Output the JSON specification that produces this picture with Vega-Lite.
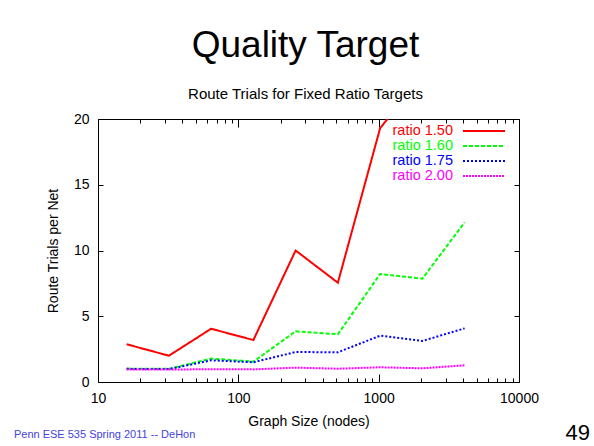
{
  "$schema": "https://vega.github.io/schema/vega-lite/v6.json",
  "padding": {"left": 13, "top": 26, "right": 4, "bottom": 0},
  "background": "white",
  "config": {
    "font": "Liberation Sans",
    "view": {"stroke": "#000000", "strokeWidth": 1},
    "axis": {
      "labelFont": "Liberation Sans", "titleFont": "Liberation Sans",
      "labelColor": "#000000", "titleColor": "#000000",
      "domain": false, "grid": false, "tickColor": "#000000",
      "titleFontWeight": "normal", "labelFontSize": 14, "titleFontSize": 14
    },
    "title": {"font": "Liberation Sans", "fontWeight": "normal", "color": "#000000"}
  },
  "title": {"text": "49", "orient": "bottom", "anchor": "end", "fontSize": 22, "offset": -17, "dx": 51},
  "vconcat": [
    {
      "title": {"text": "Penn ESE 535 Spring 2011 -- DeHon", "orient": "bottom", "anchor": "start", "fontSize": 11, "color": "#4444dd", "offset": 0, "dx": -32},
      "vconcat": [
        {
          "width": 421,
          "height": 263,
          "title": {"text": "Quality Target", "subtitle": "Route Trials for Fixed Ratio Targets", "fontSize": 37, "subtitleFontSize": 15, "subtitleColor": "#000000", "subtitleFont": "Liberation Sans", "subtitlePadding": 22, "offset": -30, "anchor": "middle", "dx": -3},
          "data": {"values": [
            {"n": 16, "trials": 2.87, "series": "ratio 1.50"},
            {"n": 32, "trials": 2.0, "series": "ratio 1.50"},
            {"n": 64, "trials": 4.05, "series": "ratio 1.50"},
            {"n": 128, "trials": 3.19, "series": "ratio 1.50"},
            {"n": 256, "trials": 10.0, "series": "ratio 1.50"},
            {"n": 512, "trials": 7.55, "series": "ratio 1.50"},
            {"n": 1024, "trials": 19.3, "series": "ratio 1.50"},
            {"n": 2048, "trials": 23.3, "series": "ratio 1.50"},
            {"n": 16, "trials": 1.0, "series": "ratio 1.60"},
            {"n": 32, "trials": 1.0, "series": "ratio 1.60"},
            {"n": 64, "trials": 1.78, "series": "ratio 1.60"},
            {"n": 128, "trials": 1.55, "series": "ratio 1.60"},
            {"n": 256, "trials": 3.85, "series": "ratio 1.60"},
            {"n": 512, "trials": 3.63, "series": "ratio 1.60"},
            {"n": 1024, "trials": 8.21, "series": "ratio 1.60"},
            {"n": 2048, "trials": 7.86, "series": "ratio 1.60"},
            {"n": 4096, "trials": 12.14, "series": "ratio 1.60"},
            {"n": 16, "trials": 1.0, "series": "ratio 1.75"},
            {"n": 32, "trials": 0.98, "series": "ratio 1.75"},
            {"n": 64, "trials": 1.65, "series": "ratio 1.75"},
            {"n": 128, "trials": 1.5, "series": "ratio 1.75"},
            {"n": 256, "trials": 2.28, "series": "ratio 1.75"},
            {"n": 512, "trials": 2.26, "series": "ratio 1.75"},
            {"n": 1024, "trials": 3.52, "series": "ratio 1.75"},
            {"n": 2048, "trials": 3.12, "series": "ratio 1.75"},
            {"n": 4096, "trials": 4.08, "series": "ratio 1.75"},
            {"n": 16, "trials": 0.95, "series": "ratio 2.00"},
            {"n": 32, "trials": 0.95, "series": "ratio 2.00"},
            {"n": 64, "trials": 0.97, "series": "ratio 2.00"},
            {"n": 128, "trials": 0.96, "series": "ratio 2.00"},
            {"n": 256, "trials": 1.09, "series": "ratio 2.00"},
            {"n": 512, "trials": 1.01, "series": "ratio 2.00"},
            {"n": 1024, "trials": 1.12, "series": "ratio 2.00"},
            {"n": 2048, "trials": 1.04, "series": "ratio 2.00"},
            {"n": 4096, "trials": 1.27, "series": "ratio 2.00"}
          ]},
          "layer": [
            {
              "mark": {"type": "line", "clip": true, "strokeWidth": 2},
              "encoding": {
                "x": {"field": "n", "type": "quantitative",
                  "scale": {"type": "log", "domain": [10, 10000], "nice": false},
                  "axis": {"orient": "bottom", "title": "Graph Size (nodes)",
                    "values": [10, 20, 30, 40, 50, 60, 70, 80, 90, 100, 200, 300, 400, 500, 600, 700, 800, 900, 1000, 2000, 3000, 4000, 5000, 6000, 7000, 8000, 9000, 10000],
                    "format": "d",
                    "labelExpr": "datum.value == 10 || datum.value == 100 || datum.value == 1000 || datum.value == 10000 ? datum.label : ''",
                    "tickSize": {"condition": {"test": "datum.value == 10 || datum.value == 100 || datum.value == 1000 || datum.value == 10000", "value": -8}, "value": -4},
                    "labelPadding": 17, "titlePadding": 5, "labelFlush": false, "labelOverlap": false}},
                "y": {"field": "trials", "type": "quantitative",
                  "scale": {"domain": [0, 20], "nice": false, "zero": true},
                  "axis": {"orient": "left", "title": "Route Trials per Net", "values": [0, 5, 10, 15, 20],
                    "tickSize": -5, "labelPadding": 14, "titlePadding": 13, "labelFlush": false}},
                "color": {"field": "series", "type": "nominal",
                  "scale": {"domain": ["ratio 1.50", "ratio 1.60", "ratio 1.75", "ratio 2.00"], "range": ["#ff0000", "#00ff00", "#0000ff", "#ff00ff"]},
                  "legend": {"orient": "none", "legendX": 378, "legendY": 4, "title": null, "padding": 0,
                    "symbolType": "M-3,0L3,0", "symbolSize": 196, "symbolStrokeWidth": 2,
                    "labelAlign": "right", "labelOffset": -39, "labelFontSize": 14.5, "labelFont": "Liberation Sans",
                    "rowPadding": -1, "labelLimit": 0,
                    "encode": {"labels": {"update": {"fill": {"scale": "color", "field": "value"}}}}}},
                "strokeDash": {"field": "series", "type": "nominal",
                  "scale": {"domain": ["ratio 1.50", "ratio 1.60", "ratio 1.75", "ratio 2.00"], "range": [[1, 0], [4, 2], [2, 2], [2, 1]]},
                  "legend": {"orient": "none", "legendX": 378, "legendY": 4, "title": null, "padding": 0,
                    "symbolType": "M-3,0L3,0", "symbolSize": 196, "symbolStrokeWidth": 2,
                    "labelAlign": "right", "labelOffset": -39, "labelFontSize": 14.5, "labelFont": "Liberation Sans",
                    "rowPadding": -1, "labelLimit": 0,
                    "encode": {"labels": {"update": {"fill": {"scale": "color", "field": "value"}}}}}}
              }
            },
            {
              "mark": {"type": "point", "opacity": 0},
              "encoding": {
                "x": {"field": "n", "type": "quantitative",
                  "scale": {"type": "log", "domain": [10, 10000], "nice": false},
                  "axis": {"orient": "top", "title": null, "labels": false,
                    "values": [10, 20, 30, 40, 50, 60, 70, 80, 90, 100, 200, 300, 400, 500, 600, 700, 800, 900, 1000, 2000, 3000, 4000, 5000, 6000, 7000, 8000, 9000, 10000],
                    "tickSize": {"condition": {"test": "datum.value == 10 || datum.value == 100 || datum.value == 1000 || datum.value == 10000", "value": -8}, "value": -4}}},
                "y": {"field": "trials", "type": "quantitative",
                  "scale": {"domain": [0, 20], "nice": false, "zero": true},
                  "axis": {"orient": "right", "title": null, "labels": false, "values": [0, 5, 10, 15, 20], "tickSize": -5}}
              }
            }
          ],
          "resolve": {"axis": {"x": "independent", "y": "independent"}}
        }
      ]
    }
  ]
}
